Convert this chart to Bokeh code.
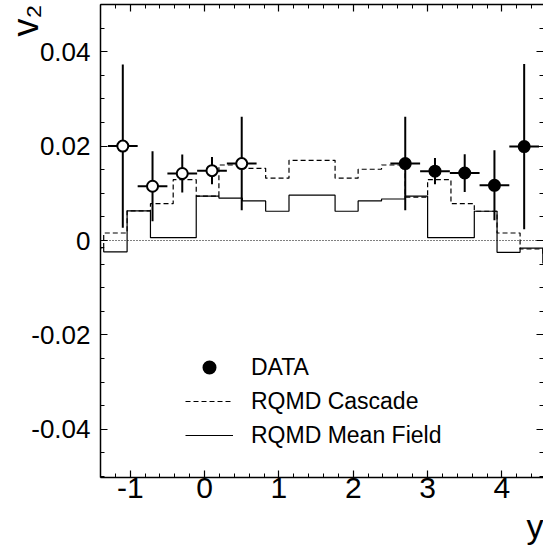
from bokeh.plotting import figure
from bokeh.models import (Range1d, LinearAxis, FixedTicker, Title, Legend,
                          LegendItem, CustomLabelingPolicy)
from bokeh.embed import file_html
from bokeh.resources import INLINE

# ---------------- data ----------------
# open circles (reflected data)
open_rap = [-1.1, -0.7, -0.3, 0.1, 0.5]
open_v2 = [0.0200, 0.0115, 0.0142, 0.0148, 0.0163]
open_err = [0.0173, 0.0074, 0.0040, 0.0029, 0.0099]
# filled circles (measured data)
data_rap = [2.7, 3.1, 3.5, 3.9, 4.3]
data_v2 = [0.0163, 0.0147, 0.0143, 0.0117, 0.0199]
data_err = [0.0099, 0.0028, 0.0040, 0.0074, 0.0175]
rap_halfwidth = 0.2

# RQMD histograms (bin edges in rapidity, bin contents in v2)
hist_edges = [-1.671, -1.357, -1.042, -0.728, -0.422, -0.112, 0.193, 0.508,
              0.822, 1.136, 1.756, 2.066, 2.381, 2.699, 3.001, 3.315, 3.629,
              3.935, 4.245, 4.551, 4.865]
cascade_v2 = [-0.0017, 0.0016, 0.0063, 0.0078, 0.0129, 0.0094, 0.0160, 0.0153,
              0.0132, 0.0170, 0.0132, 0.0151, 0.0160, 0.0092, 0.0129, 0.0078,
              0.0062, 0.0016, -0.0018, -0.0030]
meanfield_v2 = [-0.0015, -0.0024, 0.0063, 0.0006, 0.0006, 0.0094, 0.0090,
                0.0084, 0.0062, 0.0096, 0.0062, 0.0084, 0.0088, 0.0094, 0.0006,
                0.0006, 0.0062, -0.0025, -0.0016, -0.0048]
zero_level = [0.0]

x_major = [-1, 0, 1, 2, 3, 4]
x_labels = ["-1", "0", "1", "2", "3", "4"]
x_minor = [round(-1.4 + 0.2 * i, 1) for i in range(31)]
y_major = [-0.04, -0.02, 0.0, 0.02, 0.04]
y_labels = ["-0.04", "-0.02", "0", "0.02", "0.04"]
y_minor = [round(-0.05 + 0.005 * i, 3) for i in range(21)]

legend_labels = ["DATA", "RQMD Cascade", "RQMD Mean Field"]
x_title = "y"
y_title = "v\u2082"

FONT = "Liberation Sans"

p = figure(width=543, height=554, output_backend="svg", toolbar_location=None,
           x_range=Range1d(-1.4, 4.56), y_range=Range1d(-0.0502, 0.05),
           min_border_left=100, min_border_right=0, min_border_top=4,
           min_border_bottom=77, x_axis_location=None, y_axis_location=None)
p.grid.visible = False
p.outline_line_color = None
p.background_fill_color = "white"
p.border_fill_color = "white"

no_labels = CustomLabelingPolicy(code="""
try { return new indices.constructor(indices.size, 0) } catch (e) { return indices }
""")


def style_axis(ax, labels_on):
    ax.axis_line_color = "black"
    ax.axis_line_width = 1.5
    ax.major_tick_in = 7
    ax.major_tick_out = 0
    ax.minor_tick_in = 4
    ax.minor_tick_out = 0
    ax.major_tick_line_width = 1.2
    ax.minor_tick_line_width = 1
    ax.major_label_text_font = FONT
    ax.major_label_text_color = "black"
    if not labels_on:
        ax.major_label_policy = no_labels
        ax.major_label_text_font_size = "0px"
        ax.major_label_standoff = 0


xt = FixedTicker(ticks=x_major, minor_ticks=x_minor)
yt = FixedTicker(ticks=y_major, minor_ticks=y_minor)

bottom = LinearAxis(ticker=xt)
style_axis(bottom, True)
bottom.major_label_overrides = dict(zip([float(v) for v in x_major], x_labels))
bottom.major_label_text_font_size = "30px"
bottom.major_label_standoff = 0
p.add_layout(bottom, "below")

top = LinearAxis(ticker=xt)
style_axis(top, False)
p.add_layout(top, "above")

left = LinearAxis(ticker=yt)
style_axis(left, True)
left.major_label_overrides = dict(zip(y_major, y_labels))
left.major_label_text_font_size = "26px"
left.major_label_standoff = 10
p.add_layout(left, "left")

right = LinearAxis(ticker=yt)
style_axis(right, False)
right.axis_line_color = None
p.add_layout(right, "right")

# axis titles as side-panel titles (outside the frame)
p.add_layout(Title(text=x_title, align="right", vertical_align="bottom",
                   offset=0, standoff=8, text_font=FONT,
                   text_font_size="34px", text_font_style="normal",
                   text_color="black"), "below")
p.add_layout(Title(text=y_title, align="right", vertical_align="middle",
                   offset=0, standoff=-37, text_font=FONT,
                   text_font_size="36px", text_font_style="normal",
                   text_color="black"), "left")

# zero line
p.hspan(y=zero_level, line_color="black", line_width=1, line_dash="1 2")

# model histograms
r_casc = p.step(x=hist_edges, y=cascade_v2 + [cascade_v2[-1]], mode="after",
                line_color="black", line_width=1.2, line_dash="5 3")
r_mf = p.step(x=hist_edges, y=meanfield_v2 + [meanfield_v2[-1]], mode="after",
              line_color="black", line_width=1.2)

# error bars
for xs, ys, es in [(open_rap, open_v2, open_err), (data_rap, data_v2, data_err)]:
    p.segment(x0=[x - rap_halfwidth for x in xs], x1=[x + rap_halfwidth for x in xs],
              y0=ys, y1=ys, line_color="black", line_width=2)
    p.segment(x0=xs, x1=xs, y0=[y - e for y, e in zip(ys, es)],
              y1=[y + e for y, e in zip(ys, es)], line_color="black", line_width=2)

p.scatter(x=open_rap, y=open_v2, marker="circle", size=11, fill_color="white",
          line_color="black", line_width=2)
r_data = p.scatter(x=data_rap, y=data_v2, marker="circle", size=11,
                   fill_color="black", line_color="black", line_width=2)

# legend
legend = Legend(items=[LegendItem(label=legend_labels[0], renderers=[r_data], index=0),
                       LegendItem(label=legend_labels[1], renderers=[r_casc]),
                       LegendItem(label=legend_labels[2], renderers=[r_mf])],
                location=(85, 27), padding=0, margin=0, spacing=4,
                glyph_width=48, glyph_height=30, label_height=30,
                label_standoff=18, label_text_font=FONT,
                label_text_font_size="23px", label_text_color="black",
                background_fill_alpha=0, border_line_color=None)
p.add_layout(legend)

open("out.html", "w").write(file_html(p, INLINE))
